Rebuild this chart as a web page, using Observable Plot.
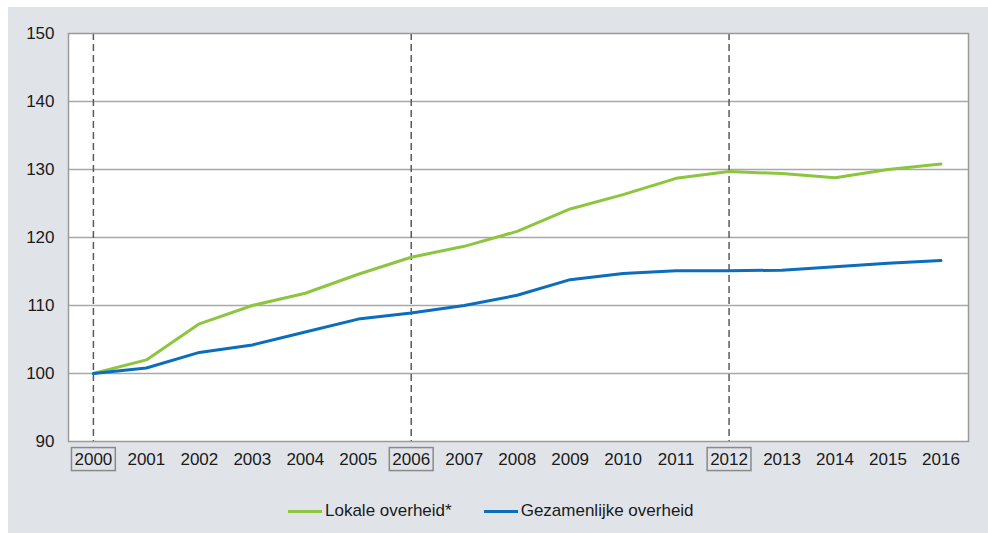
<!DOCTYPE html>
<html>
<head>
<meta charset="utf-8">
<script src="https://cdn.jsdelivr.net/npm/d3@7"></script>
<script src="https://cdn.jsdelivr.net/npm/@observablehq/plot@0.6"></script>
<style>
  html, body { margin: 0; padding: 0; background: #ffffff; width: 988px; height: 533px; overflow: hidden; }
  #wrap { position: absolute; left: 8px; top: 7px; width: 980px; height: 526px; background: #e0e4e9; font-family: "Liberation Sans", Arial, sans-serif; }
  #legend { position: absolute; left: 280px; top: 494px; display: flex; align-items: center; font-size: 17px; color: #1a1a1a; }
  .item { display: flex; align-items: center; margin-right: 32px; }
  .swatch { width: 34px; height: 3px; margin-right: 3px; }
</style>
</head>
<body>
<div id="wrap"><div id="chart"></div><div id="legend"></div></div>
<script>
const years = [2000,2001,2002,2003,2004,2005,2006,2007,2008,2009,2010,2011,2012,2013,2014,2015,2016];
const lokale = [100,102.0,107.3,110.0,111.8,114.6,117.1,118.7,120.9,124.2,126.3,128.7,129.7,129.4,128.8,130.0,130.8];
const gezamenlijk = [100,100.8,103.1,104.2,106.1,108.0,108.9,110.0,111.5,113.8,114.7,115.1,115.1,115.2,115.7,116.2,116.6];
const yTicks = [90,100,110,120,130,140,150];
const gridValues = [100,110,120,130,140];
const markedYears = [2000,2006,2012];
const seriesNames = ["Lokale overheid*","Gezamenlijke overheid"];
const seriesColors = ["#8cc63e","#0a6ebd"];

const rows = [];
years.forEach((y,i) => {
  rows.push({year: y, value: lokale[i], series: seriesNames[0]});
  rows.push({year: y, value: gezamenlijk[i], series: seriesNames[1]});
});

const chart = Plot.plot({
  width: 980,
  height: 470,
  marginLeft: 60,
  marginRight: 20,
  marginTop: 26,
  marginBottom: 36,
  style: {fontFamily: '"Liberation Sans", Arial, sans-serif', fontSize: "17px", color: "#1a1a1a", background: "transparent", overflow: "visible"},
  x: {domain: [1999.53, 2016.52], ticks: years, tickFormat: d => String(d)},
  y: {domain: [90, 150], ticks: yTicks},
  color: {domain: seriesNames, range: seriesColors},
  marks: [
    Plot.frame({fill: "white", stroke: "none"}),
    Plot.ruleY(gridValues, {stroke: "#a8a8a8", strokeWidth: 1.5, strokeOpacity: 1}),
    Plot.ruleX(markedYears, {stroke: "#5a5a5a", strokeWidth: 1.5, strokeDasharray: "7,4"}),
    Plot.line(rows, {x: "year", y: "value", z: "series", stroke: "series", strokeWidth: 3}),
    Plot.frame({stroke: "#9a9a9a", strokeWidth: 1.5}),
    Plot.axisY({ticks: yTicks, tickSize: 0, tickPadding: 14, label: null}),
    Plot.axisX({ticks: years, tickFormat: d => String(d), tickSize: 0, tickPadding: 11, label: null})
  ]
});
document.getElementById("chart").appendChild(chart);

// boxes around highlighted year labels
d3.select(chart).selectAll("g[aria-label='x-axis tick label'] text").each(function() {
  const t = d3.select(this);
  if (markedYears.includes(+t.text())) {
    const b = this.getBBox();
    const g = this.parentNode;
    const tr = this.getAttribute("transform");
    const r = document.createElementNS("http://www.w3.org/2000/svg", "rect");
    r.setAttribute("x", b.x - 3);
    r.setAttribute("y", b.y - 2);
    r.setAttribute("width", b.width + 6);
    r.setAttribute("height", b.height + 4);
    r.setAttribute("fill", "none");
    r.setAttribute("stroke", "#8a8a8a");
    r.setAttribute("stroke-width", "1.5");
    if (tr) r.setAttribute("transform", tr);
    g.insertBefore(r, this);
  }
});

const legend = document.getElementById("legend");
seriesNames.forEach((n, i) => {
  const it = document.createElement("div");
  it.className = "item";
  const sw = document.createElement("div");
  sw.className = "swatch";
  sw.style.background = seriesColors[i];
  const tx = document.createElement("span");
  tx.textContent = n;
  it.appendChild(sw); it.appendChild(tx);
  legend.appendChild(it);
});
</script>
</body>
</html>
